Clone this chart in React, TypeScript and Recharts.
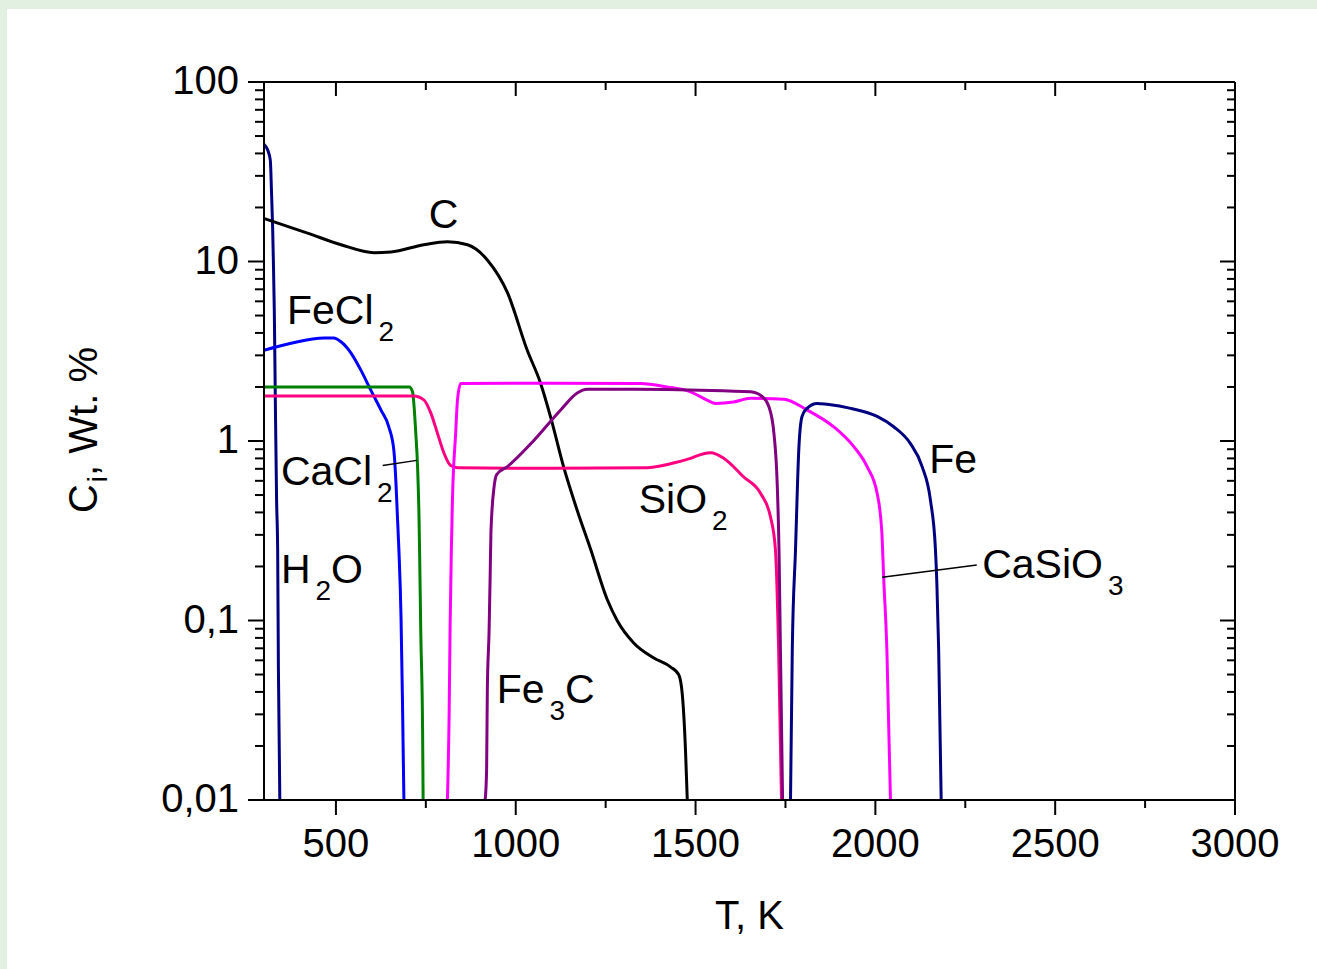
import React from "react";
import { LineChart, Line, XAxis, YAxis, ReferenceLine, ReferenceDot } from "recharts";

type Pt = [number, number];

const FONT = "'Liberation Sans', Arial, Helvetica, sans-serif";

// [T in K, C in wt. %]
const h2o: Pt[] = [
  [300, 45], [310, 41.9], [317.5, 36.7], [321, 24], [324, 15.5], [326, 10.2], [328.6, 5.4],
  [331.5, 1.69], [335, 0.47], [338, 0.247], [340, 0.055], [344, 0.01],
];
const carbon: Pt[] = [
  [302, 17.3], [421, 14.4], [514, 12.4], [606, 11.2], [653, 11.3], [744, 12.4], [810, 12.9],
  [866, 12.4], [921, 10.2], [977, 6.7], [1032, 3.2], [1069, 2.1], [1097, 1.36], [1133, 0.72],
  [1171, 0.41], [1208, 0.25], [1255, 0.13], [1282, 0.1], [1328, 0.075], [1383, 0.062],
  [1431, 0.055], [1453, 0.05], [1463, 0.039], [1472, 0.019], [1477, 0.01],
];
const fecl2: Pt[] = [
  [300, 3.2], [375, 3.5], [467, 3.75], [494, 3.75], [514, 3.57], [542, 3.09], [569, 2.49],
  [597, 1.92], [625, 1.49], [647, 1.2], [661, 0.89], [667, 0.58], [671, 0.38], [675, 0.25],
  [681, 0.105], [685, 0.036], [689, 0.01],
];
const cacl2: Pt[] = [
  [300, 2.0], [704, 2.0], [713, 1.88], [722, 1.11], [727, 0.72], [731, 0.38], [733, 0.217],
  [736, 0.085], [741, 0.0245], [742.5, 0.01],
];
const sio2: Pt[] = [
  [300, 1.78], [716, 1.78], [745, 1.69], [764, 1.43], [782, 1.11], [800, 0.86], [819, 0.73],
  [838, 0.71], [1000, 0.705], [1366, 0.71], [1467, 0.78], [1542, 0.86], [1579, 0.8],
  [1634, 0.63], [1681, 0.51], [1708, 0.38], [1722, 0.25], [1731, 0.069], [1739, 0.01],
];
const casio3: Pt[] = [
  [810, 0.01], [815, 0.032], [817.5, 0.092], [821, 0.25], [824, 0.47], [833, 1.11], [838, 1.69],
  [847, 2.09], [1100, 2.1], [1347, 2.09], [1421, 2.0], [1486, 1.88], [1532, 1.69], [1556, 1.62],
  [1606, 1.65], [1653, 1.73], [1745, 1.71], [1810, 1.49], [1884, 1.2], [1940, 0.93],
  [1977, 0.72], [2005, 0.51], [2018, 0.31], [2023, 0.175], [2032, 0.069], [2042, 0.01],
];
const fe3c: Pt[] = [
  [915, 0.01], [919, 0.0147], [921, 0.041], [926, 0.089], [929, 0.184], [931, 0.31], [940, 0.56],
  [947, 0.65], [977, 0.72], [1051, 1.01], [1125, 1.49], [1171, 1.85], [1199, 1.94], [1329, 1.94],
  [1514, 1.92], [1653, 1.88], [1685, 1.77], [1704, 1.55], [1718, 1.1], [1727, 0.58],
  [1732, 0.25], [1736, 0.069], [1742, 0.01],
];
const fe: Pt[] = [
  [1764, 0.01], [1769, 0.069], [1778, 0.25], [1787, 0.89], [1796, 1.37], [1810, 1.52],
  [1838, 1.62], [1866, 1.6], [1931, 1.52], [2005, 1.37], [2051, 1.2], [2097, 0.97],
  [2130, 0.72], [2153, 0.47], [2167, 0.25], [2171, 0.161], [2176, 0.069], [2183, 0.01],
];

const series = [
  { id: "H2O", color: "#000080", pts: h2o },
  { id: "C", color: "#000000", pts: carbon },
  { id: "FeCl2", color: "#0000ff", pts: fecl2 },
  { id: "CaCl2", color: "#008000", pts: cacl2 },
  { id: "SiO2", color: "#ff0080", pts: sio2 },
  { id: "CaSiO3", color: "#ff00ff", pts: casio3 },
  { id: "Fe3C", color: "#800080", pts: fe3c },
  { id: "Fe", color: "#000080", pts: fe },
];

// curve labels: text, subscript, trailing text, anchor (T, C) at baseline start
const labels = [
  { main: "C", sub: "", tail: "", T: 758, v: 15.4 },
  { main: "FeCl", sub: "2", tail: "", T: 364, v: 4.49 },
  { main: "CaCl", sub: "2", tail: "", T: 347, v: 0.569 },
  { main: "H", sub: "2", tail: "O", T: 347, v: 0.162 },
  { main: "Fe", sub: "3", tail: "C", T: 947, v: 0.0347 },
  { main: "SiO", sub: "2", tail: "", T: 1342, v: 0.397 },
  { main: "Fe", sub: "", tail: "", T: 2150, v: 0.664 },
  { main: "CaSiO", sub: "3", tail: "", T: 2297, v: 0.173 },
];

// leader lines for CaCl2 and CaSiO3
const leaders: [Pt, Pt][] = [
  [[630, 0.73], [725, 0.78]],
  [[2019, 0.174], [2282, 0.204]],
];

const xMajor = [500, 1000, 1500, 2000, 2500, 3000];
const xMinor = [750, 1250, 1750, 2250, 2750];
const yMajor = [0.01, 0.1, 1, 10, 100];
const yMinor = [
  0.02, 0.03, 0.04, 0.05, 0.06, 0.07, 0.08, 0.09,
  0.2, 0.3, 0.4, 0.5, 0.6, 0.7, 0.8, 0.9,
  2, 3, 4, 5, 6, 7, 8, 9,
  20, 30, 40, 50, 60, 70, 80, 90,
];

const xTicks = [...xMajor, ...xMinor].sort((a, b) => a - b);
const yTicks = [...yMajor, ...yMinor].sort((a, b) => a - b);

const isXMajor = (v: number) => xMajor.includes(v);
const isYMajor = (v: number) => yMajor.includes(v);
const fmtY = (v: number) => String(v).replace(".", ",");

function BottomTick({ x, y, payload }: any) {
  const major = isXMajor(payload.value);
  return (
    <g>
      <line x1={x} x2={x} y1={y} y2={y + (major ? 15 : 8)} stroke="#000" strokeWidth={2} />
      {major && (
        <text x={x} y={y + 57} textAnchor="middle" fontFamily={FONT} fontSize={40} fill="#000">
          {payload.value}
        </text>
      )}
    </g>
  );
}

function TopTick({ x, y, payload }: any) {
  const major = isXMajor(payload.value);
  return <line x1={x} x2={x} y1={y} y2={y + (major ? 14 : 8)} stroke="#000" strokeWidth={2} />;
}

function LeftTick({ x, y, payload }: any) {
  const major = isYMajor(payload.value);
  return (
    <g>
      <line x1={x - (major ? 16 : 9)} x2={x} y1={y} y2={y} stroke="#000" strokeWidth={2} />
      {major && (
        <text x={x - 25} y={y + 12} textAnchor="end" fontFamily={FONT} fontSize={40} fill="#000">
          {fmtY(payload.value)}
        </text>
      )}
    </g>
  );
}

function RightTick({ x, y, payload }: any) {
  const major = isYMajor(payload.value);
  return <line x1={x - (major ? 15 : 8)} x2={x} y1={y} y2={y} stroke="#000" strokeWidth={2} />;
}

function Anno({ viewBox, main, sub, tail }: any) {
  if (!viewBox) return null;
  return (
    <text x={viewBox.x} y={viewBox.y} fontFamily={FONT} fontSize={41} fill="#000">
      <tspan>{main}</tspan>
      {sub && (
        <tspan fontSize={28} dx={5} dy={17}>
          {sub}
        </tspan>
      )}
      {tail && <tspan dy={-17}>{tail}</tspan>}
    </text>
  );
}

function XTitle({ viewBox }: any) {
  if (!viewBox) return null;
  return (
    <text
      x={viewBox.x + viewBox.width / 2}
      y={viewBox.y + 129}
      textAnchor="middle"
      fontFamily={FONT}
      fontSize={40}
      fill="#000"
    >
      T, K
    </text>
  );
}

function YTitle({ viewBox }: any) {
  if (!viewBox) return null;
  const cx = viewBox.x + 50;
  const cy = viewBox.y + 348;
  return (
    <text
      x={cx}
      y={cy}
      transform={`rotate(-90 ${cx} ${cy})`}
      textAnchor="middle"
      fontFamily={FONT}
      fontSize={40}
      fill="#000"
    >
      <tspan>C</tspan>
      <tspan fontSize={28} dx={2} dy={10}>i</tspan>
      <tspan dy={-10}>, Wt. %</tspan>
    </text>
  );
}

export default function App() {
  return (
    <div style={{ position: "absolute", left: 0, top: 0, width: 1317, height: 969, background: "#e1f0e1" }}>
      <div style={{ position: "absolute", left: 7, top: 9, width: 1310, height: 960, background: "#fff" }}>
        <LineChart width={1310} height={960} margin={{ top: 73, right: 82, left: 40, bottom: 29 }}>
          <XAxis
            xAxisId="b"
            dataKey="T"
            type="number"
            domain={[300, 3000]}
            allowDataOverflow
            ticks={xTicks}
            interval={0}
            tickSize={0}
            tickMargin={0}
            tick={<BottomTick />}
            tickLine={false}
            axisLine={{ stroke: "#000", strokeWidth: 2 }}
            height={140}
            label={<XTitle />}
          />
          <XAxis
            xAxisId="t"
            orientation="top"
            mirror
            dataKey="T"
            type="number"
            domain={[300, 3000]}
            allowDataOverflow
            ticks={xTicks}
            interval={0}
            tickSize={0}
            tickMargin={0}
            tick={<TopTick />}
            tickLine={false}
            axisLine={{ stroke: "#000", strokeWidth: 2 }}
          />
          <YAxis
            yAxisId="l"
            scale="log"
            type="number"
            domain={[0.01, 100]}
            allowDataOverflow
            ticks={yTicks}
            interval={0}
            tickSize={0}
            tickMargin={0}
            tick={<LeftTick />}
            tickLine={false}
            axisLine={{ stroke: "#000", strokeWidth: 2 }}
            width={217}
            label={<YTitle />}
          />
          <YAxis
            yAxisId="r"
            orientation="right"
            mirror
            scale="log"
            type="number"
            domain={[0.01, 100]}
            allowDataOverflow
            ticks={yTicks}
            interval={0}
            tickSize={0}
            tickMargin={0}
            tick={<RightTick />}
            tickLine={false}
            axisLine={{ stroke: "#000", strokeWidth: 2 }}
          />
          {series.map((s) => (
            <Line
              key={s.id}
              xAxisId="b"
              yAxisId="l"
              data={s.pts.map(([T, v]) => ({ T, v }))}
              dataKey="v"
              type="monotone"
              stroke={s.color}
              strokeWidth={3}
              dot={false}
              activeDot={false}
              isAnimationActive={false}
            />
          ))}
          {leaders.map(([a, b], i) => (
            <ReferenceLine
              key={i}
              xAxisId="b"
              yAxisId="l"
              segment={[{ x: a[0], y: a[1] }, { x: b[0], y: b[1] }]}
              stroke="#000"
              strokeWidth={1.5}
            />
          ))}
          {labels.map((l, i) => (
            <ReferenceDot
              key={i}
              xAxisId="b"
              yAxisId="l"
              x={l.T}
              y={l.v}
              r={0}
              fill="none"
              stroke="none"
              label={<Anno main={l.main} sub={l.sub} tail={l.tail} />}
            />
          ))}
        </LineChart>
      </div>
    </div>
  );
}
